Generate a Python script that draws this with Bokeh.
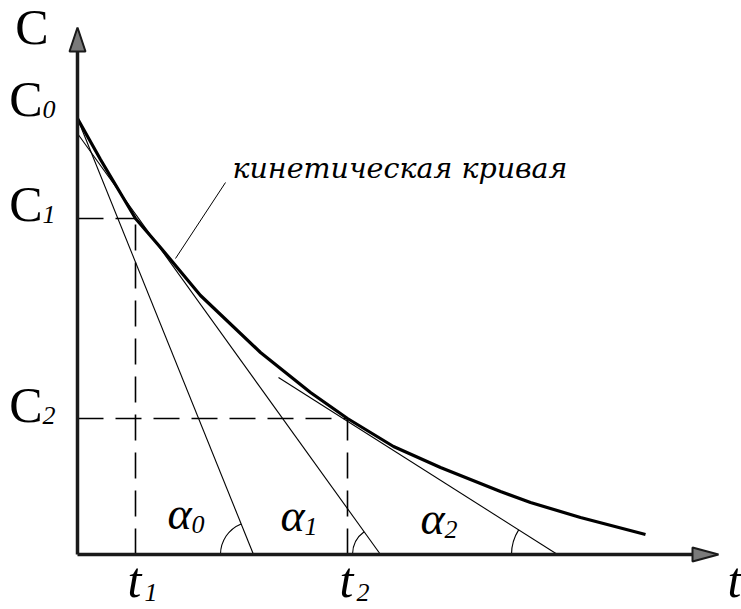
import numpy as np
from bokeh.plotting import figure
from bokeh.models import Range1d
from bokeh.core.properties import value
from bokeh.embed import file_html
from bokeh.resources import INLINE

# Kinetic curve C(t), read as points (arbitrary units)
curve_t = [0.00, 0.23, 0.58, 0.83, 1.23, 1.83, 2.33, 2.70, 3.16, 3.63, 4.23, 4.53, 5.03, 5.68]
curve_c = [4.36, 3.95, 3.36, 3.07, 2.59, 2.02, 1.62, 1.36, 1.08, 0.87, 0.63, 0.52, 0.37, 0.20]

# Marked moments and concentrations
c0 = 4.36
t1, c1 = 0.58, 3.36
t2, c2 = 2.70, 1.36

# Tangent lines: start point and where they cut the t axis
tan_start_t = [0.00, 0.00, 2.01]
tan_start_c = [4.36, 4.21, 1.77]
tan_foot_t = [1.76, 3.03, 4.80]
angle_names = ["α", "α", "α"]
angle_subs = ["0", "1", "2"]

# Axis extents
t_axis_end = 6.41
c_axis_end = 5.27

FONT = value("Liberation Serif")

p = figure(width=741, height=609, x_range=Range1d(-0.77, 6.64), y_range=Range1d(-0.55, 5.54),
           output_backend="svg", toolbar_location=None, x_axis_type=None, y_axis_type=None,
           min_border=0)
p.outline_line_color = None
p.xgrid.visible = False
p.ygrid.visible = False
p.background_fill_color = "white"
p.border_fill_color = "white"

PX = 0.01  # one screen pixel in data units (both directions)

# Dashed guides to C1/t1 and C2/t2
for tt, cc in [(t1, c1), (t2, c2)]:
    p.line([0, tt], [cc, cc], line_color="black", line_width=1.6, line_dash="26 12")
    p.line([tt, tt], [0, cc], line_color="black", line_width=1.6, line_dash="26 12")

# Tangents
for st, sc, ft in zip(tan_start_t, tan_start_c, tan_foot_t):
    p.line([st, ft], [sc, 0], line_color="black", line_width=1.1)

# Angle arcs at the tangent feet
arc_r = [33, 28, 46]
for st, sc, ft, r in zip(tan_start_t, tan_start_c, tan_foot_t, arc_r):
    ang = np.arctan2(sc, st - ft)
    p.arc(x=[ft], y=[0], radius=r, radius_units="screen", start_angle=ang, end_angle=np.pi,
          direction="anticlock", line_color="black", line_width=1.1)

# Kinetic curve
p.line(curve_t, curve_c, line_color="black", line_width=3.2, line_join="round")

# Leader for the curve caption
lead_t = [0.98, 1.48]
lead_c = [2.96, 3.72]
p.line(lead_t, lead_c, line_color="black", line_width=1.0)
p.text(x=[lead_t[1]], y=[lead_c[1]], text=["кинетическая кривая"], x_offset=7, y_offset=-14,
       text_font=value("DejaVu Serif"), text_font_style="italic", text_font_size="28.5px",
       text_align="left", text_baseline="alphabetic", text_color="black")

# Axes
p.line([0, 0], [0, c_axis_end - 23 * PX], line_color="#1a1a1a", line_width=3.5)
p.line([0, t_axis_end - 26 * PX], [0, 0], line_color="#1a1a1a", line_width=3.5)
p.patch([0, -8 * PX, 8 * PX], [c_axis_end, c_axis_end - 24 * PX, c_axis_end - 24 * PX],
        fill_color="#7a7a7a", line_color="#1a1a1a", line_width=2)
p.patch([t_axis_end, t_axis_end - 26 * PX, t_axis_end - 26 * PX], [0, 7 * PX, -7 * PX],
        fill_color="#7a7a7a", line_color="#1a1a1a", line_width=2)

# Axis names
p.text(x=[0], y=[c_axis_end], text=["C"], x_offset=-29, y_offset=-1,
       text_font=FONT, text_font_size="50px", text_align="right", text_baseline="alphabetic")
p.text(x=[t_axis_end], y=[0], text=["t"], x_offset=9, y_offset=25,
       text_font=FONT, text_font_style="italic", text_font_size="50px",
       text_align="left", text_baseline="alphabetic")

# Concentration marks on the C axis
c_vals = [c0, c1, c2]
c_subs = ["0", "1", "2"]
c_dy = [-20, -15, -14]
for cv, sub, dy in zip(c_vals, c_subs, c_dy):
    p.text(x=[0], y=[cv], text=["C"], x_offset=-35, y_offset=dy,
           text_font=FONT, text_font_size="50px", text_align="right", text_baseline="alphabetic")
    p.text(x=[0], y=[cv], text=[sub], x_offset=-35, y_offset=dy + 11,
           text_font=FONT, text_font_style="italic", text_font_size="26px",
           text_align="left", text_baseline="alphabetic")

# Time marks on the t axis
for tv, sub in zip([t1, t2], ["1", "2"]):
    p.text(x=[tv], y=[0], text=["t"], x_offset=-8, y_offset=25,
           text_font=FONT, text_font_style="italic", text_font_size="50px",
           text_align="left", text_baseline="alphabetic")
    p.text(x=[tv], y=[0], text=[sub], x_offset=9, y_offset=38,
           text_font=FONT, text_font_style="italic", text_font_size="26px",
           text_align="left", text_baseline="alphabetic")

# Angle names
a_dx = [-86, -100, -137]
a_dy = [-41, -39, -36]
for ft, nm, sub, dx, dy in zip(tan_foot_t, angle_names, angle_subs, a_dx, a_dy):
    p.text(x=[ft], y=[0], text=[nm], x_offset=dx, y_offset=dy,
           text_font=FONT, text_font_style="italic", text_font_size="46px",
           text_align="left", text_baseline="alphabetic")
    p.text(x=[ft], y=[0], text=[sub], x_offset=dx + 24, y_offset=dy + 11,
           text_font=FONT, text_font_style="italic", text_font_size="26px",
           text_align="left", text_baseline="alphabetic")

open("out.html", "w").write(file_html(p, INLINE))
